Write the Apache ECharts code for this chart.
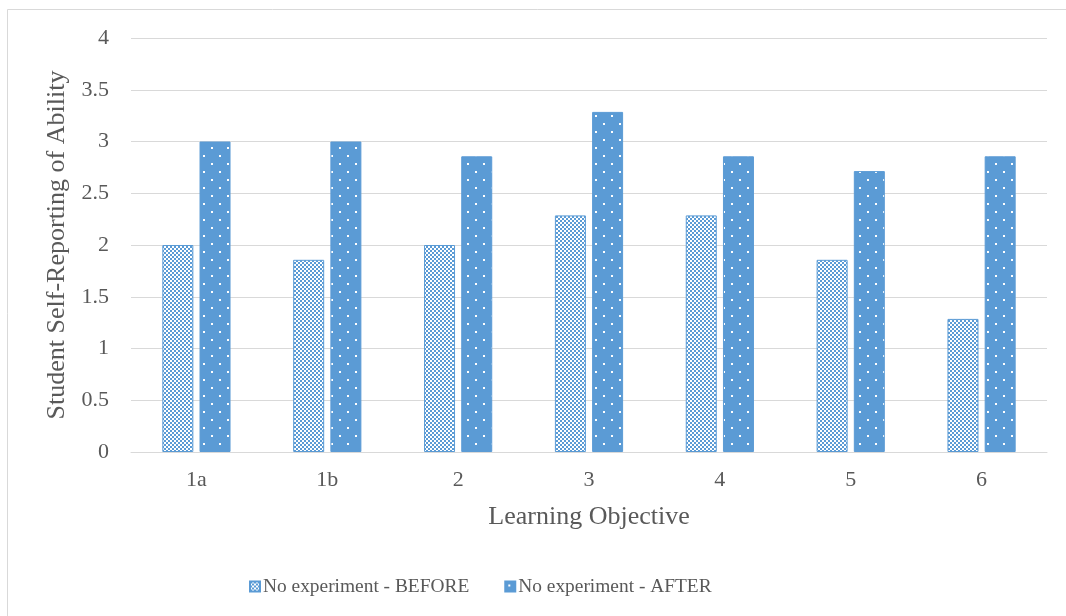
<!DOCTYPE html>
<html>
<head>
<meta charset="utf-8">
<script src="https://cdn.jsdelivr.net/npm/echarts@6/dist/echarts.min.js"></script>
<style>
  html, body { margin: 0; padding: 0; background: #fff; }
  #main { width: 1066px; height: 616px; }
</style>
</head>
<body>
<div id="main"></div>
<script>
// 数据
var categories = ['1a', '1b', '2', '3', '4', '5', '6'];
var beforeValues = [2.0, 1.857, 2.0, 2.286, 2.286, 1.857, 1.286];
var afterValues = [3.0, 3.0, 2.857, 3.286, 2.857, 2.714, 2.857];
var seriesNames = ['No experiment - BEFORE', 'No experiment - AFTER'];

var blue = '#5B9BD5';
var textColor = '#595959';
var serif = '"Liberation Serif", "Times New Roman", serif';

// 棋盘格图案 (BEFORE)
function checkerPattern() {
    var c = document.createElement('canvas');
    c.width = 4; c.height = 4;
    var ctx = c.getContext('2d');
    ctx.fillStyle = '#ffffff';
    ctx.fillRect(0, 0, 4, 4);
    ctx.fillStyle = blue;
    ctx.fillRect(0, 0, 2, 2);
    ctx.fillRect(2, 2, 2, 2);
    return c;
}

// 点状图案 (AFTER)
function dotPattern() {
    var c = document.createElement('canvas');
    c.width = 16; c.height = 16;
    var ctx = c.getContext('2d');
    ctx.fillStyle = blue;
    ctx.fillRect(0, 0, 16, 16);
    ctx.fillStyle = '#ffffff';
    ctx.fillRect(3, 3, 2, 2);
    ctx.fillRect(11, 11, 2, 2);
    return c;
}

var myChart = echarts.init(document.getElementById('main'));
var option = {
    animation: false,
    backgroundColor: '#ffffff',
    graphic: [{
        type: 'rect',
        shape: { x: 7.5, y: 9.5, width: 1100, height: 700 },
        style: { fill: 'none', stroke: '#D9D9D9', lineWidth: 1 },
        silent: true
    }],
    grid: {
        left: 131,
        right: 19,
        top: 38,
        bottom: 164
    },
    legend: {
        data: seriesNames,
        top: 572,
        left: 244,
        itemWidth: 10,
        itemHeight: 10,
        itemGap: 35,
        icon: 'rect',
        textStyle: {
            color: textColor,
            fontFamily: serif,
            fontSize: 19.4,
            padding: [0, 0, 0, -2]
        }
    },
    xAxis: {
        type: 'category',
        data: categories,
        name: 'Learning Objective',
        nameLocation: 'middle',
        nameGap: 52,
        nameTextStyle: { color: textColor, fontFamily: serif, fontSize: 26 },
        axisLine: { lineStyle: { color: '#D9D9D9', width: 1 } },
        axisTick: { show: false },
        axisLabel: { color: textColor, fontFamily: serif, fontSize: 22, margin: 17 }
    },
    yAxis: {
        type: 'value',
        min: 0,
        max: 4,
        interval: 0.5,
        name: 'Student Self-Reporting of Ability',
        nameLocation: 'middle',
        nameGap: 56,
        nameTextStyle: { color: textColor, fontFamily: serif, fontSize: 26 },
        axisLine: { show: false },
        axisTick: { show: false },
        axisLabel: { color: textColor, fontFamily: serif, fontSize: 22, margin: 22 },
        splitLine: { lineStyle: { color: '#D9D9D9', width: 1 } }
    },
    series: [{
        name: seriesNames[0],
        type: 'bar',
        data: beforeValues,
        barWidth: 31,
        barGap: '20%',
        itemStyle: {
            color: { image: checkerPattern(), repeat: 'repeat' },
            borderColor: blue,
            borderWidth: 1
        }
    }, {
        name: seriesNames[1],
        type: 'bar',
        data: afterValues,
        barWidth: 31,
        barGap: '20%',
        itemStyle: {
            color: { image: dotPattern(), repeat: 'repeat' },
            borderColor: blue,
            borderWidth: 1
        }
    }]
};
myChart.setOption(option);
</script>
</body>
</html>
